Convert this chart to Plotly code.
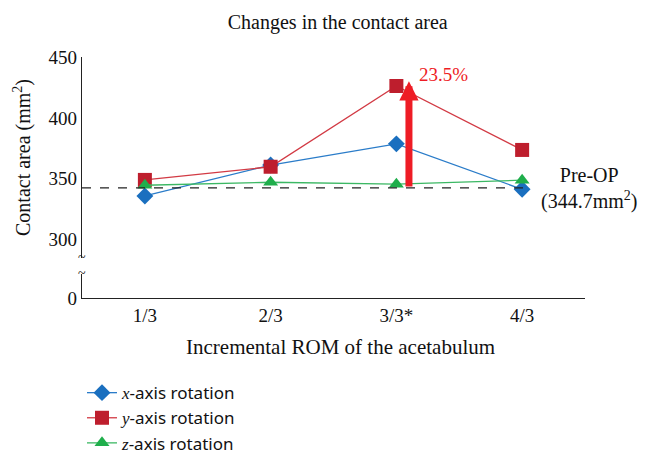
import plotly.graph_objects as go

categories = ["1/3", "2/3", "3/3*", "4/3"]
x_rot = [335.9, 361.3, 378.7, 341.4]
y_rot = [349.1, 359.9, 426.2, 373.7]
z_rot = [344.7, 347.2, 345.6, 348.9]
pre_op = 342.5
arrow_top = 430
zero_tick = [0]

serif = "Liberation Serif"
sans = "Noto Sans"
idx = list(range(len(categories)))

fig = go.Figure()
fig.add_trace(go.Scatter(
    x=idx, y=x_rot, name="<span style='font-family:Liberation Serif'><i>x</i></span>-axis rotation",
    mode="lines+markers",
    line=dict(color="#2a7cc9", width=1.3),
    marker=dict(symbol="diamond", size=13, color="#1a6fbf"),
))
fig.add_trace(go.Scatter(
    x=idx, y=y_rot, name="<span style='font-family:Liberation Serif'><i>y</i></span>-axis rotation",
    mode="lines+markers",
    line=dict(color="#d23a44", width=1.3),
    marker=dict(symbol="square", size=14, color="#be1e2d"),
))
fig.add_trace(go.Scatter(
    x=idx, y=z_rot, name="<span style='font-family:Liberation Serif'><i>z</i></span>-axis rotation",
    mode="lines+markers",
    line=dict(color="#3cb864", width=1.3),
    marker=dict(symbol="triangle-up", size=13, color="#1fae4b"),
))
# helper so the lower (broken) axis segment is drawn
fig.add_trace(go.Scatter(x=idx[:1], y=zero_tick, yaxis="y2", mode="markers",
                         marker=dict(opacity=0), showlegend=False, hoverinfo="skip"))

# pre-op reference line
fig.add_shape(type="line", xref="x", yref="y", x0=-0.5, x1=3.05,
              y0=pre_op, y1=pre_op, line=dict(color="#222", width=1.3, dash="dash"))

# increase arrow
fig.add_annotation(x=2.1, y=arrow_top, ax=2.1, ay=pre_op, xref="x", yref="y",
                   axref="x", ayref="y", text="", showarrow=True,
                   arrowhead=2, arrowsize=0.55, arrowwidth=7, arrowcolor="#ee1c25")
fig.add_annotation(x=2.16, y=arrow_top + 6, xref="x", yref="y", text="23.5%",
                   showarrow=False, xanchor="left",
                   font=dict(family=serif, size=19, color="#ee1c25"))
fig.add_annotation(x=1.008, y=pre_op, xref="paper", yref="y", xanchor="center",
                   yshift=-1, text="Pre-OP<br>(344.7mm<sup>2</sup>)", showarrow=False,
                   font=dict(family=serif, size=20, color="#111"), align="center")

# x axis title, placed by hand (slightly right of the plot centre)
fig.add_annotation(x=0.513, y=-0.203, xref="paper", yref="paper",
                   text="Incremental ROM of the acetabulum", showarrow=False,
                   xanchor="center", yanchor="middle",
                   font=dict(family=serif, size=21, color="#111"))

# axis break marks
for yy in [0.166, 0.1]:
    fig.add_annotation(x=0, y=yy, xref="paper", yref="paper", text="~",
                       showarrow=False, xanchor="center", yanchor="middle",
                       font=dict(family=serif, size=14, color="#111"))

# page body adds 8px around the figure, so the figure is 8px smaller
fig.update_layout(
    width=639, height=447,
    paper_bgcolor="white", plot_bgcolor="white",
    margin=dict(l=74, r=62, t=49, b=157, autoexpand=False),
    title=dict(text="Changes in the contact area", x=0.516, xanchor="center",
               y=0.985, yanchor="top", font=dict(family=serif, size=20, color="#111")),
    font=dict(family=serif, size=19, color="#111"),
    xaxis=dict(tickmode="array", tickvals=idx, ticktext=categories,
               range=[-0.5, 3.5], showline=True, linecolor="#222", linewidth=1.3,
               showgrid=False, zeroline=False, anchor="y2", automargin=False),
    yaxis=dict(domain=[0.166, 1], range=[285, 450], tickvals=[300, 350, 400, 450],
               showline=True, linecolor="#222", linewidth=1.3, showgrid=False,
               zeroline=False, ticks="", automargin=False,
               title=dict(text="Contact area (mm<sup>2</sup>)", standoff=12,
                          font=dict(family=serif, size=20))),
    yaxis2=dict(domain=[0, 0.1], range=[0, 10], tickvals=zero_tick,
                showline=True, linecolor="#222", linewidth=1.3, showgrid=False,
                zeroline=False, ticks="", automargin=False),
    legend=dict(x=0, y=-0.32, xanchor="left", yanchor="top",
                font=dict(family=sans, size=17), tracegroupgap=0,
                bgcolor="rgba(0,0,0,0)"),
    showlegend=True,
)

fig.write_html("out.html")
